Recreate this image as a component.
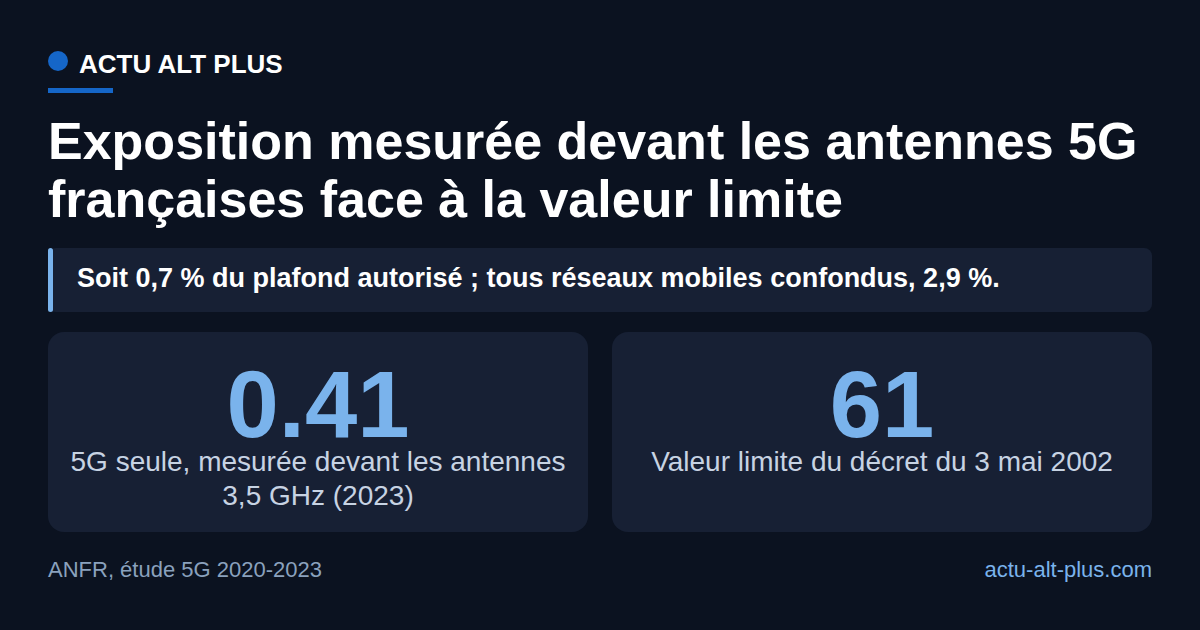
import React from "react"

// card content
const statValues = ["0.41", "61"]
const statLabels = [
  ["5G seule, mesurée devant les antennes", "3,5 GHz (2023)"],
  ["Valeur limite du décret du 3 mai 2002"]
]

const brand = "ACTU ALT PLUS"
const titleLines = [
  "Exposition mesurée devant les antennes 5G",
  "françaises face à la valeur limite"
]
const callout = "Soit 0,7 % du plafond autorisé ; tous réseaux mobiles confondus, 2,9 %."
const source = "ANFR, étude 5G 2020-2023"
const site = "actu-alt-plus.com"

const FONT = "'Liberation Sans', Arial, Helvetica, sans-serif"

// top of a line box so that the text baseline lands on `baseline`
function topFor(baseline: number, fs: number, lh: number) {
  return baseline - ((lh - 1.117 * fs) / 2 + 0.905 * fs)
}

export default function App() {

  const cardX = [48, 612]
  const cardW = 540

  return (
    <div
      style={{
        position: "fixed",
        left: 0,
        top: 0,
        width: 1200,
        height: 630,
        background: "#0b1220",
        fontFamily: FONT,
        overflow: "hidden"
      }}
    >

      {/* brand */}
      <div style={{ position: "absolute", left: 48, top: 51, width: 20, height: 20, borderRadius: "50%", background: "#1566c8" }} />
      <div
        style={{
          position: "absolute",
          left: 79,
          top: topFor(73, 26, 30),
          fontSize: 26,
          lineHeight: "30px",
          fontWeight: 700,
          color: "#ffffff",
          whiteSpace: "nowrap"
        }}
      >
        {brand}
      </div>
      <div style={{ position: "absolute", left: 48, top: 88, width: 65, height: 5, background: "#1566c8" }} />

      {/* title */}
      {titleLines.map((line, i) => (
        <div
          key={i}
          style={{
            position: "absolute",
            left: 48,
            top: topFor(159 + i * 58, 52, 58),
            fontSize: 52,
            lineHeight: "58px",
            fontWeight: 700,
            color: "#ffffff",
            whiteSpace: "nowrap"
          }}
        >
          {line}
        </div>
      ))}

      {/* callout */}
      <div
        style={{
          position: "absolute",
          left: 48,
          top: 248,
          width: 1104,
          height: 64,
          background: "#172034",
          borderRadius: 8
        }}
      />
      <div style={{ position: "absolute", left: 48, top: 248, width: 5, height: 64, borderRadius: 3, background: "#7ab3ec" }} />
      <div
        style={{
          position: "absolute",
          left: 77,
          top: topFor(287, 27, 30),
          fontSize: 27,
          lineHeight: "30px",
          fontWeight: 700,
          color: "#ffffff",
          whiteSpace: "nowrap"
        }}
      >
        {callout}
      </div>

      {/* stat cards */}
      {statValues.map((v, i) => (
        <div key={i}>
          <div
            style={{
              position: "absolute",
              left: cardX[i],
              top: 332,
              width: cardW,
              height: 200,
              background: "#172034",
              borderRadius: 16
            }}
          />
          <div
            style={{
              position: "absolute",
              left: cardX[i],
              width: cardW,
              top: topFor(438, 94, 76),
              fontSize: 94,
              lineHeight: "76px",
              fontWeight: 700,
              color: "#7ab3ec",
              textAlign: "center"
            }}
          >
            {v}
          </div>
          {statLabels[i].map((l, j) => (
            <div
              key={j}
              style={{
                position: "absolute",
                left: cardX[i],
                width: cardW,
                top: topFor(472 + j * 33.5, 28, 32),
                fontSize: 28,
                lineHeight: "32px",
                color: "#c7d3e3",
                textAlign: "center",
                whiteSpace: "nowrap"
              }}
            >
              {l}
            </div>
          ))}
        </div>
      ))}

      {/* footer */}
      <div
        style={{
          position: "absolute",
          left: 48,
          top: topFor(578, 22, 26),
          fontSize: 22,
          lineHeight: "26px",
          color: "#8aa1bd",
          whiteSpace: "nowrap"
        }}
      >
        {source}
      </div>
      <div
        style={{
          position: "absolute",
          right: 48,
          top: topFor(578, 22, 26),
          fontSize: 22,
          lineHeight: "26px",
          color: "#7ab3ec",
          whiteSpace: "nowrap"
        }}
      >
        {site}
      </div>

    </div>
  )
}
